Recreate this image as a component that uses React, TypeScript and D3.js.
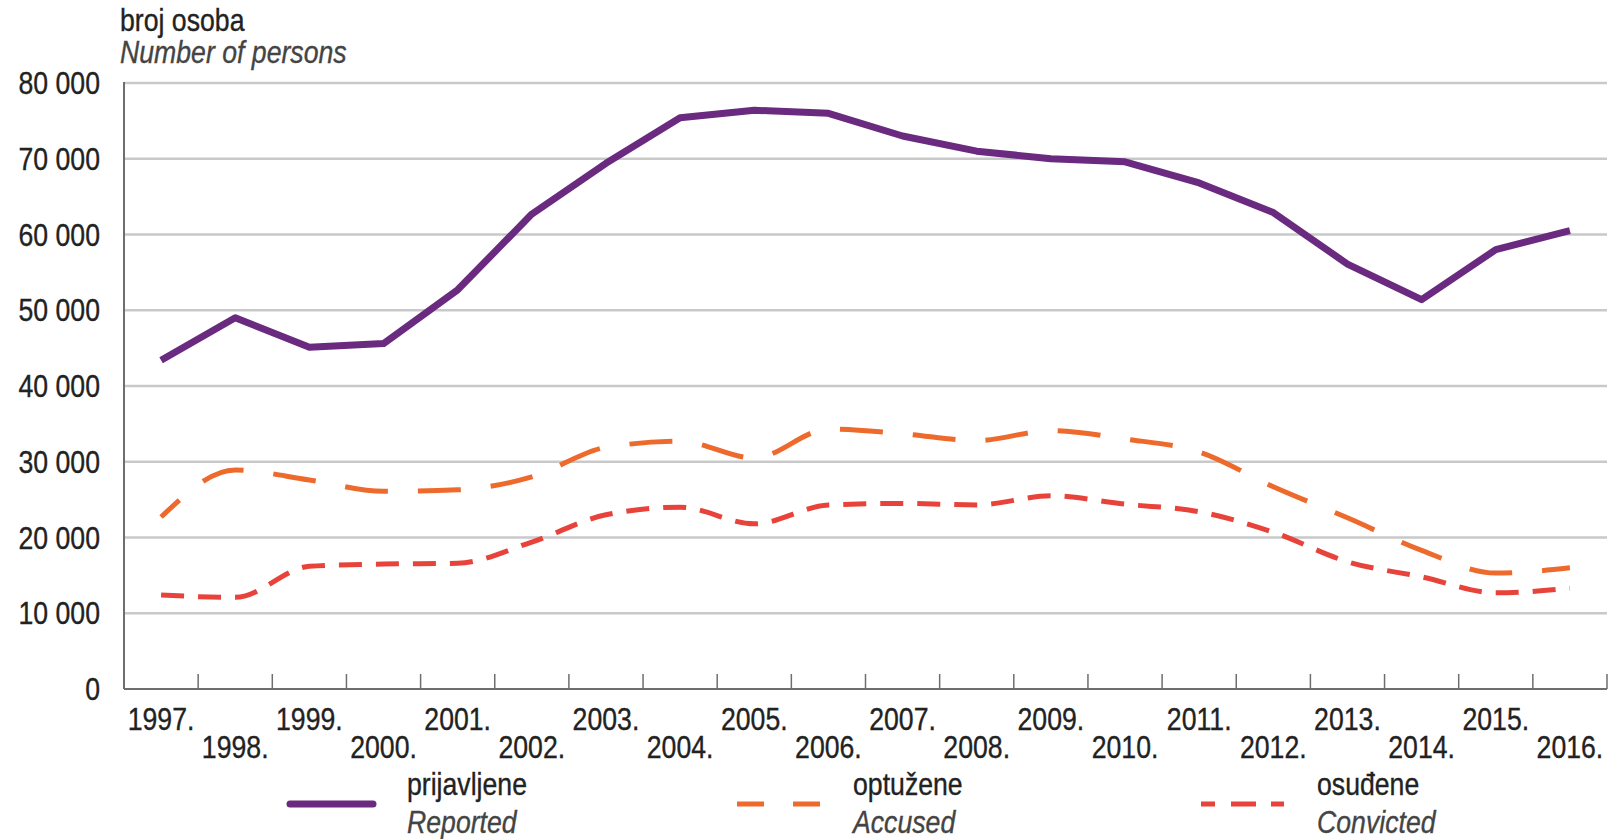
import React from "react";
import * as d3 from "d3";

const years = ["1997.", "1998.", "1999.", "2000.", "2001.", "2002.", "2003.", "2004.", "2005.", "2006.", "2007.", "2008.", "2009.", "2010.", "2011.", "2012.", "2013.", "2014.", "2015.", "2016."];
const reported = [43400, 49000, 45100, 45600, 52700, 62700, 69400, 75400, 76400, 76000, 73000, 71000, 70000, 69600, 66800, 62900, 56100, 51400, 58000, 60500];
const accused = [22700, 28900, 27600, 26100, 26300, 28000, 31900, 32700, 30500, 34300, 33700, 32800, 34100, 33000, 31300, 26700, 22600, 18300, 15300, 16000];
const convicted = [12400, 12100, 16200, 16500, 16600, 19400, 23000, 24000, 21800, 24300, 24500, 24300, 25500, 24400, 23400, 20700, 16800, 14800, 12700, 13300];
const yTicks = [0, 10000, 20000, 30000, 40000, 50000, 60000, 70000, 80000];
const tickLabels = ["0", "10 000", "20 000", "30 000", "40 000", "50 000", "60 000", "70 000", "80 000"];
const seriesNames = ["prijavljene", "optužene", "osuđene"];
const seriesNamesEn = ["Reported", "Accused", "Convicted"];

const W = 1619;
const H = 839;
const left = 124;
const right = 1607;
const top = 83;
const bottom = 689;
const FONT = "'Liberation Sans', Arial, sans-serif";
const SX = 0.86;

function CText(props: { x: number; y: number; anchor?: string; italic?: boolean; fill?: string; size?: number; children: React.ReactNode }) {
  const fill = props.fill || "#222";
  return (
    <text
      transform={`translate(${props.x},${props.y}) scale(${SX},1)`}
      textAnchor={props.anchor || "start"}
      fontSize={props.size || 31}
      fontStyle={props.italic ? "italic" : "normal"}
      fill={fill}
      stroke={fill}
      strokeWidth={0.35}
    >
      {props.children}
    </text>
  );
}

export default function App() {
  const x = d3.scaleBand<string>().domain(years).range([left, right]).padding(0);
  const y = d3.scaleLinear().domain([0, 80000]).range([bottom, top]);
  const cx = (i: number) => (x(years[i]) as number) + x.bandwidth() / 2;

  const lineLin = d3.line<number>().x((_, i) => cx(i)).y((d) => y(d)).curve(d3.curveLinear);
  const lineSmooth = d3.line<number>().x((_, i) => cx(i)).y((d) => y(d)).curve(d3.curveMonotoneX);

  const purple = "#6a2a80";
  const orange = "#ee6a2c";
  const red = "#e8433b";
  const txt = "#222";

  const legend = [
    { lx: 290, tx: 407, color: purple, dash: "none", w: 7, name: 0 },
    { lx: 737, tx: 853, color: orange, dash: "27 29", w: 5, name: 1 },
    { lx: 1201, tx: 1317, color: red, dash: "14 16 25 15 14", w: 5, name: 2 },
  ];

  return (
    <svg width={W} height={H} style={{ position: "absolute", left: 0, top: 0, background: "#fff" }} fontFamily={FONT}>
      <rect x={0} y={0} width={W} height={H} fill="#fff" />
      {/* gridlines */}
      {yTicks.slice(1).map((t) => (
        <line key={t} x1={left} x2={right} y1={y(t)} y2={y(t)} stroke="#c9c9c9" strokeWidth={2.5} />
      ))}
      {/* axes */}
      <line x1={left} x2={left} y1={top - 1} y2={bottom} stroke="#6e6e6e" strokeWidth={2} />
      <line x1={left} x2={right} y1={bottom} y2={bottom} stroke="#6e6e6e" strokeWidth={2} />
      {years.map((yr) => {
        const xx = (x(yr) as number) + x.bandwidth();
        return <line key={"t" + yr} x1={xx} x2={xx} y1={bottom} y2={bottom - 15} stroke="#6e6e6e" strokeWidth={1.5} />;
      })}
      {/* y labels */}
      {yTicks.map((t, i) => (
        <CText key={"yl" + t} x={100} y={y(t) + 11} anchor="end">
          {tickLabels[i]}
        </CText>
      ))}
      {/* x labels */}
      {years.map((yr, i) => (
        <CText key={"xl" + yr} x={cx(i)} y={i % 2 === 0 ? 730 : 758} anchor="middle">
          {yr}
        </CText>
      ))}
      {/* title */}
      <CText x={120} y={31}>broj osoba</CText>
      <CText x={120} y={63} italic fill="#444">Number of persons</CText>
      {/* series */}
      <path d={lineSmooth(convicted) || ""} fill="none" stroke={red} strokeWidth={5} strokeDasharray="23 14" />
      <path d={lineSmooth(accused) || ""} fill="none" stroke={orange} strokeWidth={5} strokeDasharray="43 30" strokeDashoffset={18} />
      <path d={lineLin(reported) || ""} fill="none" stroke={purple} strokeWidth={7} strokeLinejoin="round" />
      {/* legend */}
      {legend.map((l) => (
        <g key={"lg" + l.name}>
          <line x1={l.lx} x2={l.lx + 83} y1={804} y2={804} stroke={l.color} strokeWidth={l.w} strokeDasharray={l.dash} strokeLinecap={l.name === 0 ? "round" : "butt"} />
          <CText x={l.tx} y={795}>{seriesNames[l.name]}</CText>
          <CText x={l.tx} y={833} italic fill="#444">{seriesNamesEn[l.name]}</CText>
        </g>
      ))}
    </svg>
  );
}
